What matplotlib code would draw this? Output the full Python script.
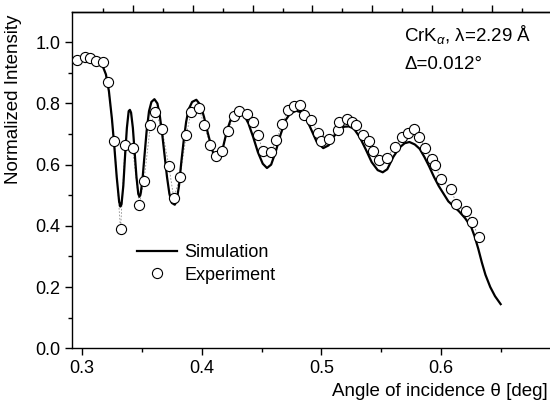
import numpy as np
import matplotlib
matplotlib.use("Agg")
import matplotlib.pyplot as plt

plt.rcParams['font.family'] = ['Liberation Sans', 'DejaVu Sans']
plt.rcParams['mathtext.fontset'] = 'custom'
plt.rcParams['mathtext.rm'] = 'Liberation Sans'
plt.rcParams['mathtext.it'] = 'Liberation Sans:italic'

# --- Experiment points ---
exp_theta = [0.2961, 0.3025, 0.3067, 0.3114, 0.3172, 0.3214, 0.3270, 0.3322, 0.3360,
             0.3422, 0.3478, 0.3517, 0.3572, 0.3614, 0.3669, 0.3725, 0.3767, 0.3819,
             0.3872, 0.3911, 0.3978, 0.4019, 0.4072, 0.4119, 0.4172, 0.4219, 0.4272,
             0.4314, 0.4375, 0.4428, 0.4469, 0.4511, 0.4581, 0.4622, 0.4672, 0.4719,
             0.4770, 0.4817, 0.4858, 0.4914, 0.4969, 0.4997, 0.5061, 0.5136, 0.5150,
             0.5211, 0.5256, 0.5289, 0.5350, 0.5400, 0.5433, 0.5483, 0.5544, 0.5617,
             0.5672, 0.5722, 0.5775, 0.5817, 0.5867, 0.5922, 0.5950, 0.5997, 0.6081,
             0.6128, 0.6206, 0.6256, 0.6317]
exp_int = [0.943, 0.951, 0.947, 0.940, 0.935, 0.870, 0.676, 0.389, 0.665,
           0.656, 0.469, 0.545, 0.730, 0.771, 0.716, 0.597, 0.490, 0.561,
           0.698, 0.771, 0.785, 0.731, 0.665, 0.629, 0.643, 0.711, 0.760,
           0.774, 0.766, 0.741, 0.698, 0.643, 0.640, 0.681, 0.733, 0.777,
           0.793, 0.795, 0.763, 0.746, 0.705, 0.676, 0.683, 0.712, 0.741,
           0.749, 0.741, 0.730, 0.698, 0.676, 0.643, 0.616, 0.623, 0.659,
           0.690, 0.703, 0.716, 0.690, 0.654, 0.618, 0.599, 0.553, 0.520,
           0.472, 0.447, 0.414, 0.362]

# --- Simulation curve ---
sim_theta = [0.296, 0.305, 0.312, 0.317, 0.320, 0.3225, 0.325, 0.327, 0.329, 0.331,
             0.332, 0.333, 0.3345, 0.336, 0.3375, 0.339, 0.340, 0.341, 0.3425, 0.344,
             0.3455, 0.347, 0.348, 0.349, 0.3505, 0.352, 0.354, 0.356, 0.358, 0.3605,
             0.363, 0.365, 0.367, 0.369, 0.371, 0.373, 0.375, 0.3775, 0.379, 0.381,
             0.383, 0.385, 0.387, 0.389, 0.392, 0.3955, 0.399, 0.402, 0.405, 0.408,
             0.410, 0.4125, 0.415, 0.418, 0.421, 0.424, 0.428, 0.4315, 0.435, 0.439,
             0.443, 0.447, 0.451, 0.4545, 0.458, 0.462, 0.466, 0.470, 0.474, 0.479,
             0.484, 0.488, 0.492, 0.496, 0.5015, 0.506, 0.510, 0.514, 0.519, 0.523,
             0.527, 0.532, 0.537, 0.542, 0.547, 0.5512, 0.555, 0.560, 0.565, 0.5695,
             0.5735, 0.578, 0.582, 0.586, 0.590, 0.594, 0.598, 0.602, 0.606, 0.611,
             0.615, 0.620, 0.625, 0.628, 0.631, 0.634, 0.637, 0.641, 0.645, 0.6497]
sim_int = [0.945, 0.945, 0.938, 0.925, 0.895, 0.840, 0.750, 0.660, 0.560, 0.480,
           0.463, 0.470, 0.530, 0.630, 0.720, 0.775, 0.779, 0.770, 0.720, 0.640,
           0.560, 0.505, 0.495, 0.505, 0.550, 0.620, 0.710, 0.775, 0.805, 0.814,
           0.800, 0.760, 0.700, 0.630, 0.560, 0.505, 0.475, 0.469, 0.480, 0.530,
           0.610, 0.680, 0.740, 0.780, 0.805, 0.812, 0.795, 0.755, 0.705, 0.660,
           0.632, 0.619, 0.628, 0.660, 0.710, 0.745, 0.768, 0.774, 0.765, 0.735,
           0.690, 0.640, 0.603, 0.589, 0.600, 0.645, 0.700, 0.745, 0.768, 0.776,
           0.770, 0.745, 0.710, 0.675, 0.654, 0.663, 0.690, 0.710, 0.724, 0.725,
           0.718, 0.690, 0.650, 0.608, 0.582, 0.575, 0.585, 0.625, 0.655, 0.670,
           0.674, 0.666, 0.652, 0.625, 0.594, 0.560, 0.530, 0.505, 0.480, 0.462,
           0.447, 0.425, 0.397, 0.365, 0.325, 0.280, 0.240, 0.200, 0.170, 0.144]

fig = plt.figure(figsize=(5.5, 4.03), dpi=100)
ax = fig.add_axes([0.131, 0.136, 0.867, 0.835])

# thin dotted guide connecting the experimental points
ax.plot(exp_theta, exp_int, color='0.55', lw=0.6, ls=(0, (2, 2)), zorder=1)
ax.plot(sim_theta, sim_int, color='black', lw=1.6, label='Simulation', zorder=2)
ax.plot(exp_theta, exp_int, ls='none', marker='o', ms=7.3, mfc='white', mec='black',
        mew=0.8, label='Experiment', zorder=3)

ax.set_xlim(0.2917, 0.69)
ax.set_ylim(0.0, 1.1)
ax.set_xticks([0.3, 0.4, 0.5, 0.6])
ax.set_xticks([0.35, 0.45, 0.55, 0.65], minor=True)
ax.set_yticks([0.0, 0.2, 0.4, 0.6, 0.8, 1.0])
ax.set_yticks([0.1, 0.3, 0.5, 0.7, 0.9], minor=True)
ax.set_yticklabels(['0.0', '0.2', '0.4', '0.6', '0.8', '1.0'])
ax.tick_params(which='major', direction='out', length=5, width=1, labelsize=13)
ax.tick_params(which='minor', direction='out', length=3, width=1)
ax.spines['right'].set_visible(False)
for s in ['left', 'bottom', 'top']:
    ax.spines[s].set_linewidth(1.0)

# top axis: ticks only, no labels
top = ax.secondary_xaxis('top')
top.set_xticks([0.3425, 0.3925, 0.4425, 0.4925, 0.5425, 0.5925, 0.6425])
top.set_xticks([0.3175, 0.3675, 0.4175, 0.4675, 0.5175, 0.5675, 0.6175, 0.6675], minor=True)
top.set_xticklabels([])
top.tick_params(which='major', direction='out', length=5, width=1)
top.tick_params(which='minor', direction='out', length=3, width=1)
top.spines['top'].set_linewidth(1.0)

ax.set_xlabel('Angle of incidence θ [deg]', fontsize=13.5, loc='right')
ax.xaxis.set_label_coords(0.997, -0.102)
ax.set_ylabel('Normalized Intensity', fontsize=13.5)
ax.yaxis.set_label_coords(-0.105, 0.74)

ax.text(0.697, 0.912, r'CrK$_\alpha$, λ=2.29 Å', transform=ax.transAxes, fontsize=13.5)
ax.text(0.697, 0.83, 'Δ=0.012°', transform=ax.transAxes, fontsize=13.5)

ax.legend(loc='upper left', bbox_to_anchor=(0.122, 0.33), frameon=False, fontsize=13,
          handlelength=2.2, handletextpad=0.4, labelspacing=0.3, borderaxespad=0)

fig.savefig('out.png', dpi=100)
